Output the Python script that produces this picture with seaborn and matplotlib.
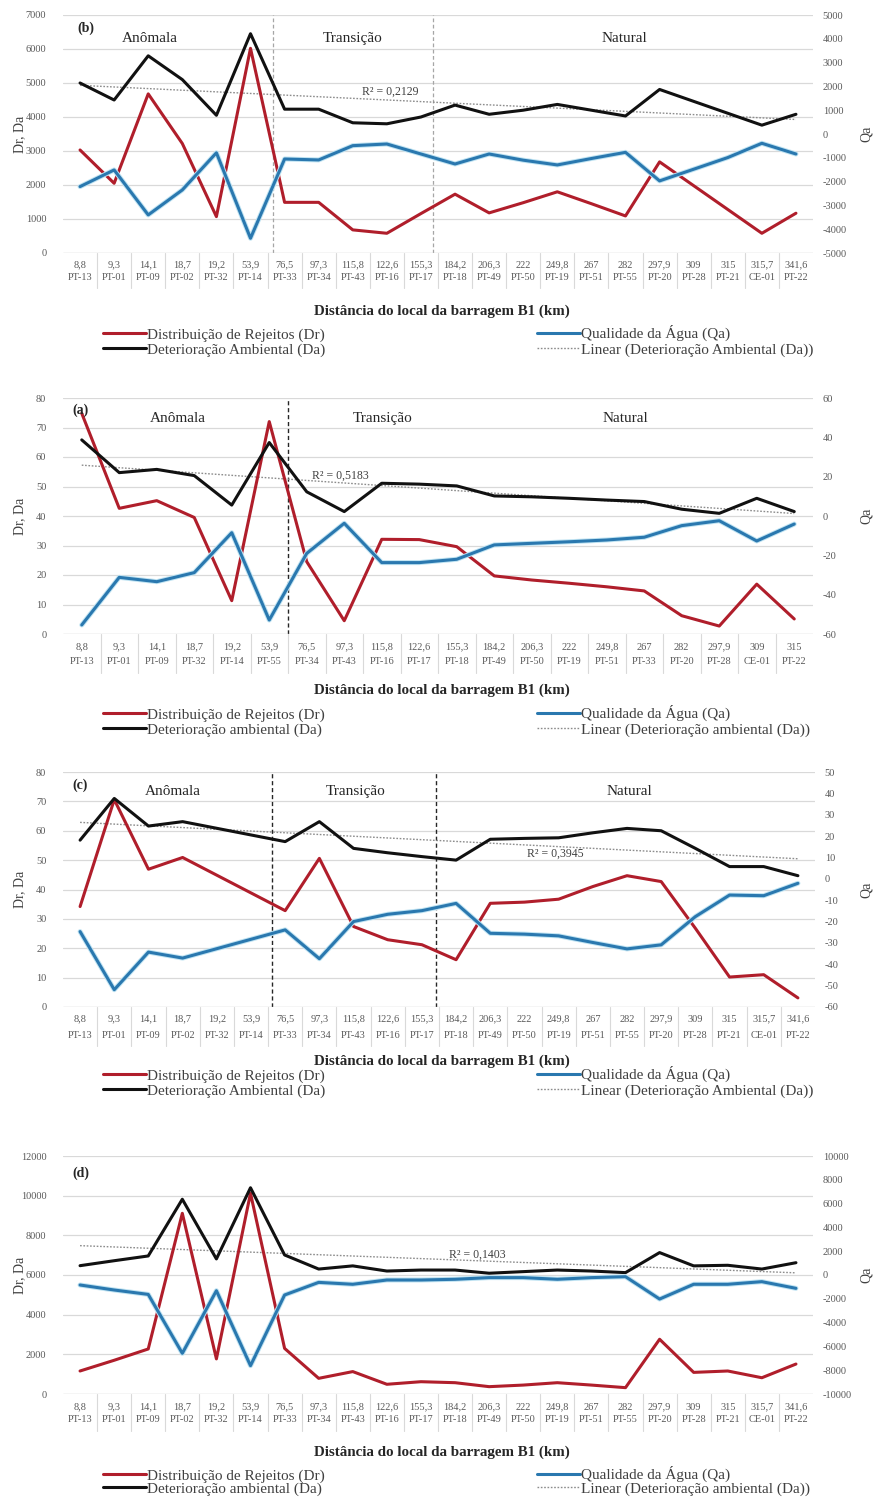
import numpy as np
import pandas as pd
import matplotlib
matplotlib.use("Agg")
import matplotlib.pyplot as plt
import matplotlib.patheffects as pe
from matplotlib.lines import Line2D
import seaborn as sns

sns.set_style("white")
plt.rcParams["font.family"] = ["Liberation Serif", "DejaVu Serif"]
plt.rcParams["axes.unicode_minus"] = False

nan = np.nan

# ---- categories (distance in km / sampling station) ----
dist_22 = ["8,8", "9,3", "14,1", "18,7", "19,2", "53,9", "76,5", "97,3", "115,8", "122,6", "155,3",
           "184,2", "206,3", "222", "249,8", "267", "282", "297,9", "309", "315", "315,7", "341,6"]
sta_22 = ["PT-13", "PT-01", "PT-09", "PT-02", "PT-32", "PT-14", "PT-33", "PT-34", "PT-43", "PT-16", "PT-17",
          "PT-18", "PT-49", "PT-50", "PT-19", "PT-51", "PT-55", "PT-20", "PT-28", "PT-21", "CE-01", "PT-22"]

dist_20 = ["8,8", "9,3", "14,1", "18,7", "19,2", "53,9", "76,5", "97,3", "115,8", "122,6",
           "155,3", "184,2", "206,3", "222", "249,8", "267", "282", "297,9", "309", "315"]
sta_20 = ["PT-13", "PT-01", "PT-09", "PT-32", "PT-14", "PT-55", "PT-34", "PT-43", "PT-16", "PT-17",
          "PT-18", "PT-49", "PT-50", "PT-19", "PT-51", "PT-33", "PT-20", "PT-28", "CE-01", "PT-22"]

# ---- panel (b) ----
dr_b = [3030, 2050, 4680, 3220, 1070, 6020, 1490, 1490, 680, 580, 1160,
        1730, 1180, 1480, 1800, 1450, 1090, 2680, 1980, 1280, 580, 1170]
da_b = [5000, 4500, 5800, 5100, 4050, 6450, 4230, 4230, 3830, 3800, 4000,
        4350, 4080, 4200, 4370, 4200, 4030, 4810, 4460, 4110, 3760, 4080]
qa_b = [-2210, -1510, -3400, -2350, -790, -4380, -1050, -1090, -490, -420, -840,
        -1260, -840, -1100, -1300, -1030, -770, -1970, -1480, -990, -390, -840]

# ---- panel (a) ----
dr_a = [74.8, 42.6, 45.2, 39.5, 11.3, 72.0, 24.5, 4.5, 32.1, 32.0,
        29.6, 19.7, 18.3, 17.2, 16.0, 14.6, 6.2, 2.7, 16.9, 5.1]
da_a = [65.8, 54.7, 55.8, 53.7, 43.7, 64.9, 48.2, 41.5, 51.1, 50.8,
        50.2, 46.8, 46.5, 46.0, 45.4, 44.9, 42.3, 40.9, 46.0, 41.5]
qa_a = [-55.4, -31.2, -33.4, -28.8, -8.5, -52.9, -19.0, -3.7, -23.7, -23.7,
        -22.0, -14.7, -13.9, -13.1, -12.2, -10.8, -4.9, -2.4, -12.7, -4.1]

# ---- panel (c) ----
dr_c = [34.2, 70.6, 46.9, 50.9, nan, nan, 32.8, 50.6, 27.4, 22.9, 21.2,
        16.1, 35.3, 35.7, 36.7, 41.0, 44.7, 42.7, 26.8, 10.2, 11.0, 3.1]
da_c = [56.8, 71.0, 61.6, 63.1, nan, nan, 56.3, 63.1, 54.0, 52.5, 51.2,
        50.0, 57.1, 57.4, 57.6, 59.3, 60.8, 60.0, 54.0, 47.8, 47.8, 44.7]
qa_c = [-24.7, -51.9, -34.3, -37.1, nan, nan, -23.9, -37.4, -20.0, -16.6, -14.9,
        -11.5, -25.5, -25.9, -26.7, -29.8, -32.8, -30.9, -17.7, -7.6, -7.9, -2.1]

# ---- panel (d) ----
dr_d = [1160, 1700, 2270, 9110, 1770, 10120, 2300, 790, 1130, 490, 620,
        570, 370, 450, 570, 450, 320, 2760, 1090, 1160, 820, 1510]
da_d = [6470, 6720, 6960, 9820, 6810, 10400, 7010, 6300, 6460, 6200, 6250,
        6250, 6090, 6170, 6250, 6200, 6120, 7130, 6460, 6490, 6300, 6620]
qa_d = [-840, -1260, -1630, -6580, -1320, -7620, -1680, -620, -780, -420, -420,
        -360, -220, -220, -360, -220, -140, -2020, -780, -780, -560, -1120]

r2_labels = {"b": "R² = 0,2129", "a": "R² = 0,5183", "c": "R² = 0,3945", "d": "R² = 0,1403"}
zones = ["Anômala", "Transição", "Natural"]

W, H = 877, 1499
fig = plt.figure(figsize=(W / 100, H / 100), dpi=100)

RED = "#B01E2B"
BLUE = "#2A78AF"
BLACK = "#111111"
TREND = "#8C8C8C"
GRID = "#D9D9D9"
TXT = "#595959"
PX = 0.72  # points per pixel at 100 dpi


def draw_panel(letter, dist, sta, dr, da, qa, box, ylim, ystep, y2lim, y2step,
               rows, title_y, leg_rows, da_word, dividers, div_style, zone_pos,
               r2_pos, letter_pos):
    left, top, right, bottom = box
    ax = fig.add_axes([left / W, 1 - bottom / H, (right - left) / W, (bottom - top) / H])
    ax2 = ax.twinx()
    n = len(dist)
    x = np.arange(n)

    df = pd.DataFrame({"x": x, "Dr": dr, "Da": da, "Qa": qa})

    # horizontal grid from the primary axis
    ax.set_ylim(*ylim)
    ax.set_yticks(np.arange(ylim[0], ylim[1] + ystep / 2, ystep))
    ax.yaxis.grid(True, color=GRID, lw=0.9)
    ax.set_axisbelow(True)
    ax2.set_ylim(*y2lim)
    ax2.set_yticks(np.arange(y2lim[0], y2lim[1] + y2step / 2, y2step))
    for a in (ax, ax2):
        a.set_xlim(-0.5, n - 0.5)
        a.set_xticks([])
        for s in a.spines.values():
            s.set_visible(False)
        a.tick_params(axis="y", length=0, labelsize=7.5, labelcolor=TXT)
    ax.tick_params(axis="y", pad=12)
    ax2.tick_params(axis="y", pad=7)
    fmt = matplotlib.ticker.FuncFormatter(lambda v, p: f"{v:g}")
    ax.yaxis.set_major_formatter(fmt)
    ax2.yaxis.set_major_formatter(fmt)
    ax.axhline(ylim[0], color=GRID, lw=0.9)

    # linear trend of Da over category index (1..n)
    m = df["Da"].notna()
    coef = np.polyfit(df.loc[m, "x"] + 1, df.loc[m, "Da"], 1)
    trend = np.polyval(coef, x + 1)
    ax.plot(x, trend, color=TREND, lw=1.0, ls=(0, (1.2, 1.2)), zorder=2)

    # series
    d = df[df["Dr"].notna()]
    sns.lineplot(data=d, x="x", y="Dr", ax=ax, color=RED, lw=2.2, sort=False, legend=False, zorder=3)
    d = df[df["Da"].notna()]
    sns.lineplot(data=d, x="x", y="Da", ax=ax, color=BLACK, lw=2.2, sort=False, legend=False, zorder=4)
    d = df[df["Qa"].notna()]
    sns.lineplot(data=d, x="x", y="Qa", ax=ax2, color=BLUE, lw=2.2, sort=False, legend=False, zorder=3,
                 path_effects=[pe.Stroke(linewidth=3.6, foreground="#BFE3F2"), pe.Normal()])
    for a in (ax, ax2):
        a.set_xlabel("")
        a.set_ylabel("")

    # zone dividers
    for xv in dividers:
        ax.axvline(xv, **div_style)

    # category labels in two levels with separators
    xt = ax.get_xaxis_transform()
    sep_len = (rows[1] + 11) / (bottom - top)
    for k in range(1, n):
        ax.plot([k - 0.5, k - 0.5], [0, -sep_len], transform=xt, color=GRID, lw=0.8, clip_on=False)
    for i in range(n):
        ax.annotate(dist[i], (i, 0), xycoords=xt, xytext=(0, -rows[0] * PX), textcoords="offset points",
                    ha="center", va="center", fontsize=7.5, color=TXT)
        ax.annotate(sta[i], (i, 0), xycoords=xt, xytext=(0, -rows[1] * PX), textcoords="offset points",
                    ha="center", va="center", fontsize=7.5, color=TXT)

    # zone names
    if zone_pos is not None:
        zx, zy = zone_pos
        for name, xv in zip(zones, zx):
            ax.text(xv, zy, name, transform=xt, ha="center", va="center", fontsize=11, color="#262626")

    ax.text(letter_pos[0], letter_pos[1], f"({letter})", transform=ax.transAxes, ha="left", va="center",
            fontsize=10, fontweight="bold", color="#262626")
    ax.text(r2_pos[0], r2_pos[1], r2_labels[letter], ha="center", va="center", fontsize=8.5, color="#404040",
            zorder=6)

    # axis titles
    fig.text(20 / W, 1 - (top + bottom) / 2 / H, "Dr, Da", rotation=90, ha="center", va="center",
             fontsize=10, color="#404040")
    fig.text(866 / W, 1 - (top + bottom) / 2 / H, "Qa", rotation=90, ha="center", va="center",
             fontsize=10, color="#404040")
    fig.text(442 / W, 1 - title_y / H, "Distância do local da barragem B1 (km)", ha="center", va="center",
             fontsize=10.8, fontweight="bold", color="#262626")

    # legend: one entry per slot, two columns
    entries = [
        (Line2D([], [], color=RED, lw=2.2), "Distribuição de Rejeitos (Dr)", 103, leg_rows[0]),
        (Line2D([], [], color=BLACK, lw=2.2), f"Deterioração {da_word} (Da)", 103, leg_rows[1]),
        (Line2D([], [], color=BLUE, lw=2.2), "Qualidade da Água (Qa)", 537, leg_rows[0] - 2),
        (Line2D([], [], color=TREND, lw=1.0, ls=(0, (1.2, 1.2))),
         f"Linear (Deterioração {da_word} (Da))", 537, leg_rows[1]),
    ]
    for h, lab, xp, yp in entries:
        fig.legend([h], [lab], loc="center left", bbox_to_anchor=(xp / W, 1 - yp / H), frameon=False,
                   borderpad=0, borderaxespad=0, handlelength=2.8, handletextpad=0.1,
                   fontsize=11, labelcolor="#404040")


grey_div = dict(color="#A6A6A6", lw=0.9, ls=(0, (3, 2)), zorder=1)
black_div = dict(color="#262626", lw=1.0, ls=(0, (3, 2)), zorder=1)

draw_panel("b", dist_22, sta_22, dr_b, da_b, qa_b, (63, 15, 813, 253), (0, 7000), 1000, (-5000, 5000), 1000,
           (12, 24), 311, (335, 350), "Ambiental", [5.65, 10.35], grey_div,
           ([2.05, 8.0, 15.98], 0.903), (9.1, 4730), (0.019, 0.945))

draw_panel("a", dist_20, sta_20, dr_a, da_a, qa_a, (63, 398, 813, 634), (0, 80), 10, (-60, 60), 20,
           (13, 28), 690, (715, 730), "ambiental", [5.5], black_div,
           ([2.57, 8.03, 14.5], 0.915), (6.9, 53.6), (0.012, 0.949))

draw_panel("c", dist_22, sta_22, dr_c, da_c, qa_c, (63, 772, 815, 1007), (0, 80), 10, (-60, 50), 10,
           (12, 28), 1061, (1076, 1091), "Ambiental", [5.6, 10.4], black_div,
           ([2.72, 8.07, 16.08], 0.915), (13.9, 52.3), (0.012, 0.945))

draw_panel("d", dist_22, sta_22, dr_d, da_d, qa_d, (63, 1156, 813, 1394), (0, 12000), 2000, (-10000, 10000), 2000,
           (13, 26), 1452, (1476, 1489), "ambiental", [], black_div,
           None, (11.64, 7000), (0.012, 0.929))

fig.savefig("out.png", dpi=100, facecolor="white")
